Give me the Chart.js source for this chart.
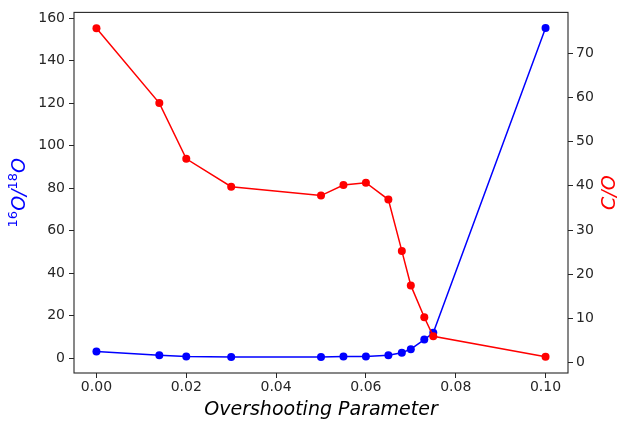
<!DOCTYPE html>
<html>
<head>
<meta charset="utf-8">
<script src="https://cdn.jsdelivr.net/npm/chart.js@4"></script>
<style>
  html, body { margin: 0; padding: 0; background: #fff; }
  #wrap { width: 618px; height: 421px; }
</style>
</head>
<body>
<div id="wrap"><canvas id="chart" width="618" height="421"></canvas></div>
<script>
// overshooting parameter values
const overshoot = [0, 0.014, 0.02, 0.03, 0.05, 0.055, 0.06, 0.065, 0.068, 0.07, 0.073, 0.075, 0.10];
// 16O/18O (left axis)
const oxygenRatio = [3.2, 1.4, 0.9, 0.6, 0.6, 0.9, 0.9, 1.4, 2.6, 4.3, 8.8, 12.0, 155.4];
// C/O (right axis)
const carbonOxygen = [75.6, 58.7, 46.1, 39.8, 37.8, 40.2, 40.7, 36.9, 25.3, 17.5, 10.3, 6.0, 1.35];

const xTicks = [0, 0.02, 0.04, 0.06, 0.08, 0.10];
const leftTicks = [0, 20, 40, 60, 80, 100, 120, 140, 160];
const rightTicks = [0, 10, 20, 30, 40, 50, 60, 70];

const tickFont = { family: "DejaVu Sans", size: 14 };
const axisColor = "#262626";

const fixedTicks = list => scale => { scale.ticks = list.map(v => ({ value: v })); };

// frame + rotated axis titles (with superscripts), matplotlib style
const decorations = {
  id: "decorations",
  afterDraw(chart) {
    const { ctx, chartArea: a } = chart;
    ctx.save();
    ctx.strokeStyle = axisColor;
    ctx.lineWidth = 1.1;
    ctx.strokeRect(a.left, a.top, a.right - a.left, a.bottom - a.top);

    const midY = (a.top + a.bottom) / 2;

    // left title: 16O/18O
    const parts = [
      { t: "16", sup: true }, { t: "O", sup: false }, { t: "/", sup: false },
      { t: "18", sup: true }, { t: "O", sup: false }
    ];
    const big = "oblique 19px 'DejaVu Sans'";
    const small = "13px 'DejaVu Sans'";
    let total = 0;
    parts.forEach(p => { ctx.font = p.sup ? small : big; p.w = ctx.measureText(p.t).width; total += p.w; });
    ctx.translate(25, midY);
    ctx.rotate(-Math.PI / 2);
    ctx.fillStyle = "#0000ff";
    ctx.textBaseline = "alphabetic";
    let x = -total / 2;
    parts.forEach(p => {
      ctx.font = p.sup ? small : big;
      ctx.fillText(p.t, x, p.sup ? -8 : 0);
      x += p.w;
    });
    ctx.restore();

    // right title: C/O
    ctx.save();
    ctx.translate(615, midY);
    ctx.rotate(-Math.PI / 2);
    ctx.font = "oblique 19px 'DejaVu Sans'";
    ctx.fillStyle = "#ff0000";
    ctx.textAlign = "center";
    ctx.fillText("C/O", 0, 0);
    ctx.restore();
  }
};

new Chart(document.getElementById("chart"), {
  type: "line",
  data: {
    datasets: [
      {
        label: "C/O",
        data: overshoot.map((x, i) => ({ x: x, y: carbonOxygen[i] })),
        yAxisID: "yRight",
        borderColor: "#ff0000",
        backgroundColor: "#ff0000",
        borderWidth: 1.5,
        pointRadius: 4,
        pointBorderWidth: 0,
        tension: 0
      },
      {
        label: "16O/18O",
        data: overshoot.map((x, i) => ({ x: x, y: oxygenRatio[i] })),
        yAxisID: "yLeft",
        borderColor: "#0000ff",
        backgroundColor: "#0000ff",
        borderWidth: 1.5,
        pointRadius: 4,
        pointBorderWidth: 0,
        tension: 0
      }
    ]
  },
  options: {
    responsive: false,
    animation: false,
    layout: { padding: { top: 6, right: 0, left: 0, bottom: 0 } },
    plugins: { legend: { display: false }, tooltip: { enabled: false } },
    scales: {
      x: {
        type: "linear",
        min: -0.005,
        max: 0.105,
        afterBuildTicks: fixedTicks(xTicks),
        afterFit: s => { s.height = 48; },
        grid: { drawOnChartArea: false, drawTicks: true, tickLength: 5, tickColor: axisColor },
        border: { display: false },
        ticks: { color: axisColor, font: tickFont, padding: 1, maxRotation: 0, callback: v => v.toFixed(2) },
        title: {
          display: true,
          text: "Overshooting Parameter",
          color: "#000",
          font: { family: "DejaVu Sans", size: 19, style: "italic" },
          padding: { top: 5, bottom: 0 }
        }
      },
      yLeft: {
        type: "linear",
        position: "left",
        min: -6.9,
        max: 162.7,
        afterBuildTicks: fixedTicks(leftTicks),
        afterFit: s => { s.width = 74; },
        grid: { drawOnChartArea: false, drawTicks: true, tickLength: 5, tickColor: axisColor },
        border: { display: false },
        ticks: { color: axisColor, font: tickFont, padding: 4 }
      },
      yRight: {
        type: "linear",
        position: "right",
        min: -2.3,
        max: 79.2,
        afterBuildTicks: fixedTicks(rightTicks),
        afterFit: s => { s.width = 50; },
        grid: { drawOnChartArea: false, drawTicks: true, tickLength: 5, tickColor: axisColor },
        border: { display: false },
        ticks: { color: axisColor, font: tickFont, padding: 3 }
      }
    }
  },
  plugins: [decorations]
});
</script>
</body>
</html>
